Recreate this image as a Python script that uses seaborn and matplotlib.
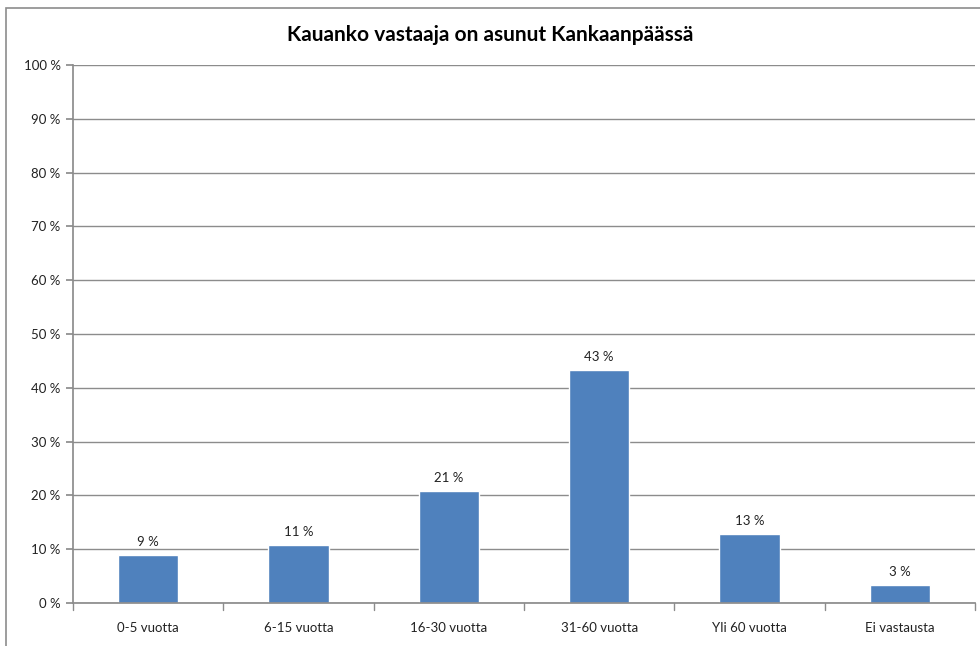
import matplotlib
matplotlib.use("Agg")
import matplotlib.pyplot as plt
import seaborn as sns
import pandas as pd
from matplotlib.patches import Rectangle

categories = ["0-5 vuotta", "6-15 vuotta", "16-30 vuotta", "31-60 vuotta", "Yli 60 vuotta", "Ei vastausta"]
values = [8.9, 10.8, 20.8, 43.3, 12.8, 3.4]
title = "Kauanko vastaaja on asunut Kankaanpäässä"
yticks = list(range(0, 101, 10))

sns.set_theme(style="white")
plt.rcParams['font.family'] = ['Lato', 'DejaVu Sans']

fig = plt.figure(figsize=(9.8, 6.46), dpi=100)
ax = fig.add_axes([73/980, 43/646, (975-73)/980, (603-65)/646])

df = pd.DataFrame({"cat": categories, "val": values})
sns.barplot(data=df, x="cat", y="val", color="#4F81BD", width=0.4, ax=ax, saturation=1)

ax.set_ylim(0, 100)
ax.set_xlim(-0.5, len(categories) - 0.5)
ax.set_yticks(yticks)
ax.set_yticklabels([f"{t} %" for t in yticks], fontsize=9.5, color="#222222")
ax.set_xticks(range(len(categories)))
ax.set_xticklabels(categories, fontsize=9.5, color="#222222")
ax.set_xlabel("")
ax.set_ylabel("")
ax.yaxis.grid(True, color="#8c8c8c", linewidth=1)
ax.set_axisbelow(True)
for s in ["top", "right"]:
    ax.spines[s].set_visible(False)
ax.spines["left"].set_color("#8c8c8c")
ax.spines["bottom"].set_color("#8c8c8c")
ax.tick_params(axis="y", length=5, color="#8c8c8c", left=True, pad=4)
ax.tick_params(axis="x", length=0, pad=14)
# category separator ticks
for b in range(1, len(categories) + 1):
    ax.plot([b - 0.5, b - 0.5], [0, -1.3], color="#8c8c8c", lw=1, clip_on=False)
ax.plot([-0.5, -0.5], [0, -1.3], color="#8c8c8c", lw=1, clip_on=False)

for i, v in enumerate(values):
    ax.text(i, v + 1.3, f"{round(v)} %", ha="center", va="bottom", fontsize=9.5, color="#222222")

fig.text(0.5, 1 - 35/646, title, ha="center", va="center", fontsize=15, fontweight="bold", color="black")

fig.patches.append(Rectangle((6/980, -0.1), 1.2, 1 - 8/646 + 0.1, transform=fig.transFigure,
                             fill=False, edgecolor="#8c8c8c", linewidth=1.2))

fig.savefig("out.png", dpi=100)
